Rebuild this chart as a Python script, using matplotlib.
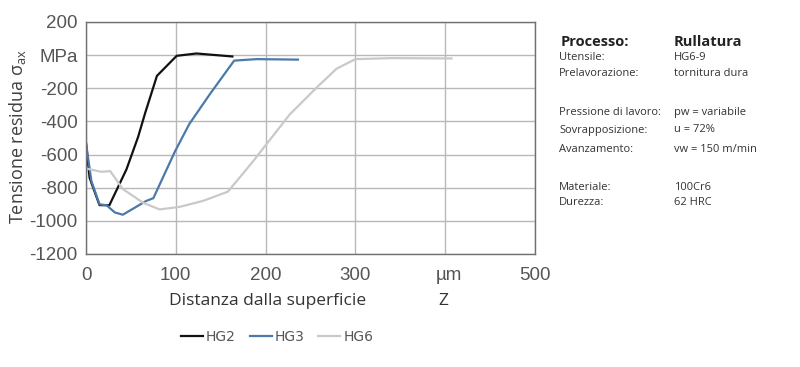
import numpy as np
import matplotlib.pyplot as plt

# dati (distanza in µm, tensione in MPa)
hg2_x = [0, 4, 15, 26, 45, 58, 66, 79, 101, 123, 163]
hg2_y = [-530, -740, -905, -906, -690, -494, -347, -125, -4, 10, -8]

hg3_x = [0, 6, 15, 23, 32, 41, 67, 75, 99, 115, 138, 165, 190, 236]
hg3_y = [-530, -760, -900, -906, -949, -963, -880, -863, -582, -416, -235, -33, -24, -27]

hg6_x = [1, 17, 27, 41, 64, 82, 104, 130, 158, 186, 227, 256, 279, 300, 341, 407]
hg6_y = [-685, -704, -700, -808, -892, -931, -916, -880, -824, -641, -357, -200, -82, -24, -18, -20]

y_ticks = [200, 0, -200, -400, -600, -800, -1000, -1200]
y_labels = ['200', 'MPa', '-200', '-400', '-600', '-800', '-1000', '-1200']
x_ticks = [0, 100, 200, 300, 400, 500]
x_labels = ['0', '100', '200', '300', '', '500']

info_left = ['Utensile:', 'Prelavorazione:', 'Pressione di lavoro:', 'Sovrapposizione:',
             'Avanzamento:', 'Materiale:', 'Durezza:']
info_right = ['HG6-9', 'tornitura dura', 'pw = variabile', 'u = 72%',
              'vw = 150 m/min', '100Cr6', '62 HRC']
info_y = [58, 74, 112, 130, 149, 187, 203]

W, H = 800, 367
fig = plt.figure(figsize=(8, 3.67), dpi=100)
ax = fig.add_axes([86 / W, 1 - 254 / H, (535 - 86) / W, (254 - 22) / H])

ax.plot(hg2_x, hg2_y, color='#111111', lw=1.6, label='HG2')
ax.plot(hg3_x, hg3_y, color='#4a79aa', lw=1.6, label='HG3')
ax.plot(hg6_x, hg6_y, color='#c9c9c9', lw=1.6, label='HG6')

ax.set_xlim(0, 500)
ax.set_ylim(-1200, 200)
ax.set_yticks(y_ticks)
ax.set_yticklabels(y_labels)
ax.set_xticks(x_ticks)
ax.set_xticklabels(x_labels)
ax.tick_params(length=0, labelsize=13.5, labelcolor='#555555')
ax.tick_params(axis='x', pad=9)
ax.tick_params(axis='y', pad=6)
for lab in ax.get_xticklabels() + ax.get_yticklabels():
    lab.set_family('Liberation Sans')
ax.grid(True, color='#b8b8b8', lw=1)
ax.set_axisbelow(True)
for s in ax.spines.values():
    s.set_color('#707070')
    s.set_linewidth(1)

# µm al posto di 400, un po' più in basso
ax.annotate('µm', xy=(400, -1200), xycoords='data', xytext=(3, -9),
            textcoords='offset points', ha='center', va='top',
            fontsize=13.5, color='#555555', family='Liberation Sans')

fig.text(18 / W, 1 - 137 / H, r'Tensione residua $\mathregular{\sigma_{ax}}$', rotation=90,
         ha='center', va='center', fontsize=13, color='#404040', family='Open Sans')
fig.text(268 / W, 1 - 301 / H, 'Distanza dalla superficie', ha='center', va='center',
         fontsize=12.5, color='#333333', family='Open Sans')
fig.text(443 / W, 1 - 301 / H, 'Z', ha='center', va='center',
         fontsize=12.5, color='#333333', family='Open Sans')

fig.legend(loc='center', bbox_to_anchor=(277 / W, 1 - 337 / H), ncol=3, frameon=False,
           fontsize=10, handlelength=1.6, handletextpad=0.2, columnspacing=1.0,
           labelcolor='#555555')

fig.text(561 / W, 1 - 42 / H, 'Processo:', fontsize=10.5, weight='bold',
         color='#222222', va='center', family='Open Sans')
fig.text(674 / W, 1 - 42 / H, 'Rullatura', fontsize=10.5, weight='bold',
         color='#222222', va='center', family='Open Sans')
for left, right, yy in zip(info_left, info_right, info_y):
    fig.text(559 / W, 1 - yy / H, left, fontsize=8, color='#333333', va='center',
             family='Open Sans')
    fig.text(674 / W, 1 - yy / H, right, fontsize=8, color='#333333', va='center',
             family='Open Sans')

fig.savefig('out.png', dpi=100)
